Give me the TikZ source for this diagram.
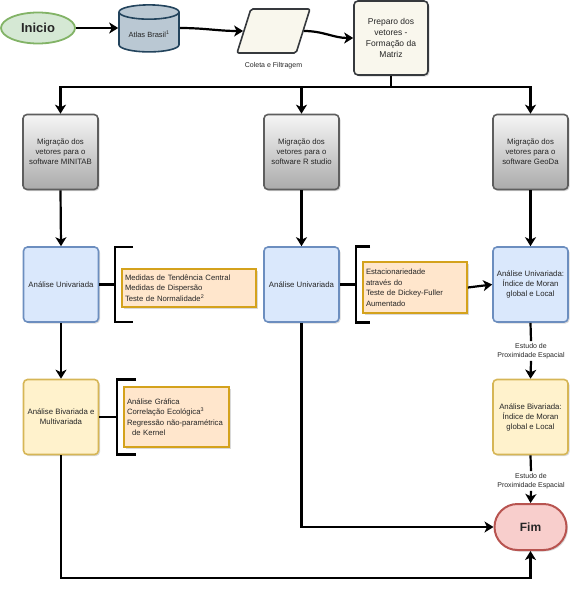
\documentclass[tikz,border=0pt]{standalone}
\usepackage{fontspec}
\setmainfont{Liberation Sans}
\usepackage{xcolor}
\usetikzlibrary{shapes.geometric}
\usetikzlibrary{arrows.meta}
\usetikzlibrary{shadows}
\definecolor{txt}{HTML}{262626}
\definecolor{greenfill}{HTML}{D5E8D4}
\definecolor{greenline}{HTML}{82B366}
\definecolor{cylfill}{HTML}{BAC8D3}
\definecolor{cylline}{HTML}{23445D}
\definecolor{creamfill}{HTML}{F9F7ED}
\definecolor{creamline}{HTML}{36393D}
\definecolor{graytop}{HTML}{F5F5F5}
\definecolor{graybot}{HTML}{ABABAB}
\definecolor{grayline}{HTML}{5E5E5E}
\definecolor{bluefill}{HTML}{DAE8FC}
\definecolor{blueline}{HTML}{6C8EBF}
\definecolor{yelfill}{HTML}{FFF2CC}
\definecolor{yelline}{HTML}{D6B656}
\definecolor{orfill}{HTML}{FFE6CC}
\definecolor{goldline}{HTML}{D4A21C}
\definecolor{redfill}{HTML}{F8CECC}
\definecolor{redline}{HTML}{B85450}
\tikzset{
  shade/.style={drop shadow={shadow xshift=1.5pt,shadow yshift=-1.5pt,opacity=0.3}},
  procbox/.style={rectangle,rounded corners=4pt,minimum width=75pt,minimum height=75pt,
    align=center,line width=1.6pt,text=txt,font=\fontsize{7.8}{10}\selectfont,shade},
  migbox/.style={procbox,draw=grayline,top color=graytop,bottom color=graybot},
  unibox/.style={procbox,draw=blueline,fill=bluefill},
  bivbox/.style={procbox,draw=yelline,fill=yelfill},
  notebox/.style={rectangle,draw=goldline,fill=orfill,line width=1.8pt,align=left,
    text=txt,font=\fontsize{7.7}{10.5}\selectfont,inner sep=3pt,shade},
  lbl/.style={align=center,text=txt,font=\fontsize{7}{9}\selectfont,inner sep=1pt},
  arr/.style={-{Stealth[length=9pt,width=11pt,inset=2.5pt]}}
}
\begin{document}
\begin{tikzpicture}[x=1pt,y=-1pt,line width=2.2pt]
\useasboundingbox (0,0) rectangle (570,589);

  \node[ellipse,draw=greenline,fill=greenfill,line width=1.8pt,minimum width=74pt,minimum height=31pt,
    text=txt,font=\fontsize{13}{15}\selectfont\bfseries] at (38,28) (inicio) {Inicio};
  \node[cylinder,shape border rotate=90,aspect=0.3,draw=cylline,fill=cylfill,line width=1.6pt,
    minimum width=60pt,minimum height=47pt,text=txt,font=\fontsize{7.5}{9}\selectfont] at (149,34) (atlas) {Atlas Brasil\textsuperscript{1}};
  \node[trapezium,trapezium left angle=73,trapezium right angle=107,trapezium stretches=true,
    rounded corners=2pt,draw=creamline,fill=creamfill,line width=1.6pt,minimum width=73pt,minimum height=44pt] at (273.5,31) (coleta) {};
  \node[lbl] at ([yshift=-35pt]coleta) (coletatxt) {Coleta e Filtragem};
  \node[procbox,draw=creamline,fill=creamfill,minimum width=74pt,minimum height=74pt,
    font=\fontsize{8.5}{11}\selectfont] at (391,38) (preparo) {Preparo dos\\vetores -\\Formação da\\Matriz};

  \draw [arr] (inicio.east) -- (inicio.east -| atlas.west);
  \draw [arr] (atlas.east |- inicio.east) to[out=0,in=180] (coleta.west);
  \draw [arr] (coleta.east) to[out=0,in=180] (preparo.west);

  \node[migbox] at (60.5,152) (mig1) {Migração dos\\vetores para o\\software MINITAB};
  \node[migbox] at (301.5,152) (mig2) {Migração dos\\vetores para o\\software R studio};
  \node[migbox] at (530.5,152) (mig3) {Migração dos\\vetores para o\\software GeoDa};

  \coordinate (split) at (391,87);
  \draw (preparo.south) -- (split);
  \draw [arr] (split) -| (mig1.north);
  \draw [arr] (split) -| (mig2.north);
  \draw [arr] (split) -| (mig3.north);

  \node[unibox] at (61,284.5) (uni1) {Análise Univariada};
  \node[unibox] at (301.5,284.5) (uni2) {Análise Univariada};
  \node[unibox] at (530.5,284.5) (uni3) {Análise Univariada:\\Índice de Moran\\global e Local};
  \draw [arr] (mig1.south) -- (uni1.north);
  \draw [arr] (mig2.south) -- (uni2.north);
  \draw [arr] (mig3.south) -- (uni3.north);

  \node[bivbox] at (61,417) (biv1) {Análise Bivariada e\\Multivariada};
  \node[bivbox] at (530.5,417) (biv3) {Análise Bivariada:\\Índice de Moran\\global e Local};
  \draw [arr] (uni1.south) -- (biv1.north);

  \coordinate (br1) at (115,284.5);
  \coordinate (br2) at (356,284.5);
  \coordinate (br3) at (117,417);
  \foreach \b/\w/\h in {br1/18/75,br2/14/76,br3/19/75}
    \draw (\b) ++(\w,-\h/2) -- ++(-\w,0) -- ++(0,\h) -- ++(\w,0);
  \draw (uni1.east) -- (br1);
  \draw (uni2.east) -- (br2);
  \draw (biv1.east) -- (br3);

  \node[notebox,text width=128pt,minimum height=38pt] at (189,288) (med)
    {Medidas de Tendência Central\\Medidas de Dispersão\\Teste de Normalidade\textsuperscript{2}};
  \node[notebox,text width=98pt,minimum height=51pt] at (415,287.5) (estac)
    {Estacionariedade\\através do\\Teste de Dickey-Fuller\\Aumentado};
  \node[notebox,text width=99pt,minimum height=60pt] at (176.5,417) (graf)
    {Análise Gráfica\\Correlação Ecológica\textsuperscript{3}\\Regressão não-paramétrica\\\hspace*{5pt}de Kernel};
  \draw [arr] (estac.east) -- (uni3.west);

  \node[lbl] at (531,351) (prox1) {Estudo de\\Proximidade Espacial};
  \node[lbl] at (531,481) (prox2) {Estudo de\\Proximidade Espacial};
  \node[rectangle,rounded corners=23pt,draw=redline,fill=redfill,line width=2pt,minimum width=72pt,minimum height=46pt,
    text=txt,font=\fontsize{12}{14}\selectfont\bfseries,shade] at (530.5,527) (fim) {Fim};

  \draw (uni3.south) -- (prox1.north);
  \draw [arr] (prox1.south) -- (biv3.north);
  \draw (biv3.south) -- (prox2.north);
  \draw [arr] (prox2.south) -- (fim.north);

  \coordinate (low) at (300,578);
  \draw [arr] (uni2.south) |- (fim.west);
  \draw [arr] (biv1.south) |- (low) -| (fim.south);

  \end{tikzpicture}
\end{document}
